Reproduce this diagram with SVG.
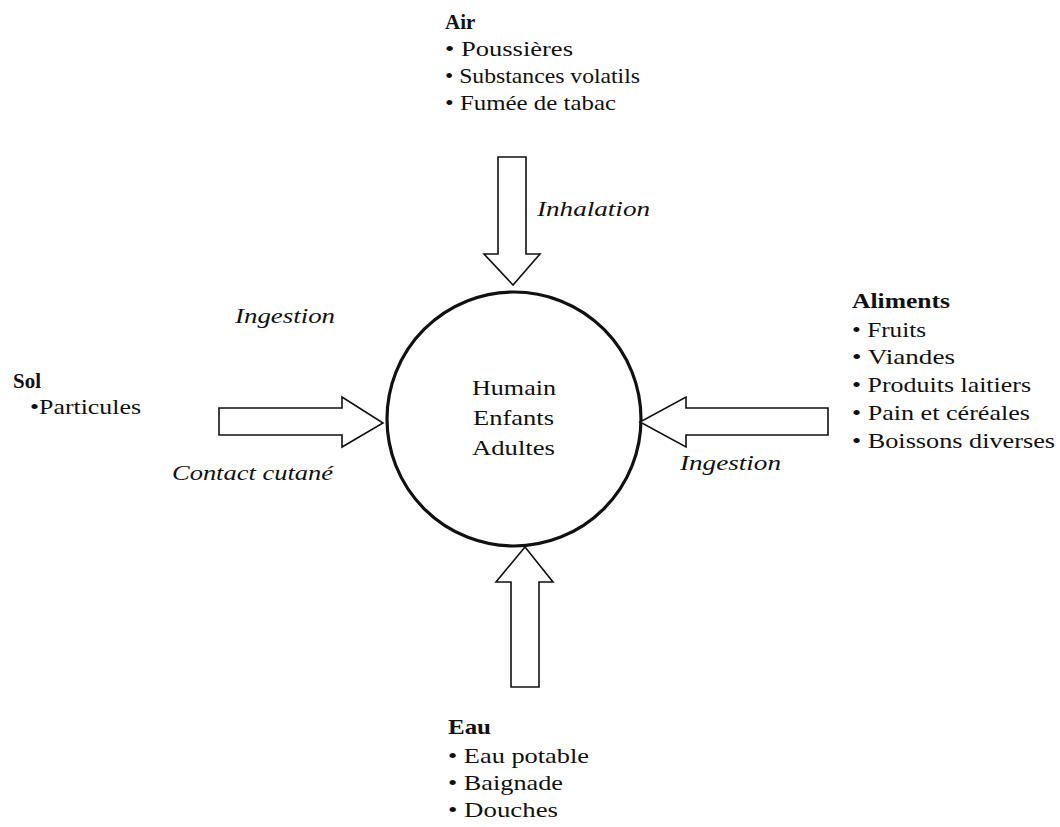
<svg xmlns="http://www.w3.org/2000/svg" width="1060" height="827" viewBox="0 0 1060 827">
<style>
text{font-family:"Liberation Serif","Times New Roman",serif;font-size:21px;fill:#111}
.b{font-weight:bold}
.i{font-style:italic}
.arrow{fill:#fff;stroke:#111;stroke-width:1.6;stroke-linejoin:miter}
</style>
<rect width="1060" height="827" fill="#fff"/>
<g id="human">
<circle cx="514" cy="419" r="127" fill="none" stroke="#111" stroke-width="3.2"/>
<text x="472" y="395" textLength="84" lengthAdjust="spacingAndGlyphs">Humain</text>
<text x="473" y="425" textLength="81" lengthAdjust="spacingAndGlyphs">Enfants</text>
<text x="472" y="455" textLength="83" lengthAdjust="spacingAndGlyphs">Adultes</text>
</g>
<g id="connectors">
<polygon class="arrow" points="498,157 526,157 526,254 540,254 513,285 484,254 498,254"/>
<polygon class="arrow" points="219,408 342,408 342,397 383,423 342,447 342,435 219,435"/>
<polygon class="arrow" points="828,408 686,408 686,397 640,422 686,447 686,435 828,435"/>
<polygon class="arrow" points="511,687 511,582 496,582 525,547 553,582 539,582 539,687"/>
<text class="i" x="537" y="216" textLength="113" lengthAdjust="spacingAndGlyphs">Inhalation</text>
<text class="i" x="235" y="323" textLength="100" lengthAdjust="spacingAndGlyphs">Ingestion</text>
<text class="i" x="172" y="480" textLength="161" lengthAdjust="spacingAndGlyphs">Contact cutané</text>
<text class="i" x="680" y="470" textLength="101" lengthAdjust="spacingAndGlyphs">Ingestion</text>
</g>
<g id="air">
<text class="b" x="445" y="29">Air</text>
<text x="445" y="56" textLength="128" lengthAdjust="spacingAndGlyphs">• Poussières</text>
<text x="445" y="83" textLength="195" lengthAdjust="spacingAndGlyphs">• Substances volatils</text>
<text x="445" y="110" textLength="171" lengthAdjust="spacingAndGlyphs">• Fumée de tabac</text>
</g>
<g id="sol">
<text class="b" x="13" y="388">Sol</text>
<text x="30" y="414" textLength="111" lengthAdjust="spacingAndGlyphs">•Particules</text>
</g>
<g id="aliments">
<text class="b" x="852" y="308" textLength="98" lengthAdjust="spacingAndGlyphs">Aliments</text>
<text x="852" y="337" textLength="74" lengthAdjust="spacingAndGlyphs">• Fruits</text>
<text x="852" y="364" textLength="103" lengthAdjust="spacingAndGlyphs">• Viandes</text>
<text x="852" y="392" textLength="179" lengthAdjust="spacingAndGlyphs">• Produits laitiers</text>
<text x="852" y="420" textLength="178" lengthAdjust="spacingAndGlyphs">• Pain et céréales</text>
<text x="852" y="448" textLength="203" lengthAdjust="spacingAndGlyphs">• Boissons diverses</text>
</g>
<g id="eau">
<text class="b" x="448" y="734" textLength="43" lengthAdjust="spacingAndGlyphs">Eau</text>
<text x="448" y="763" textLength="141" lengthAdjust="spacingAndGlyphs">• Eau potable</text>
<text x="448" y="790" textLength="115" lengthAdjust="spacingAndGlyphs">• Baignade</text>
<text x="448" y="817" textLength="110" lengthAdjust="spacingAndGlyphs">• Douches</text>
</g>
</svg>
